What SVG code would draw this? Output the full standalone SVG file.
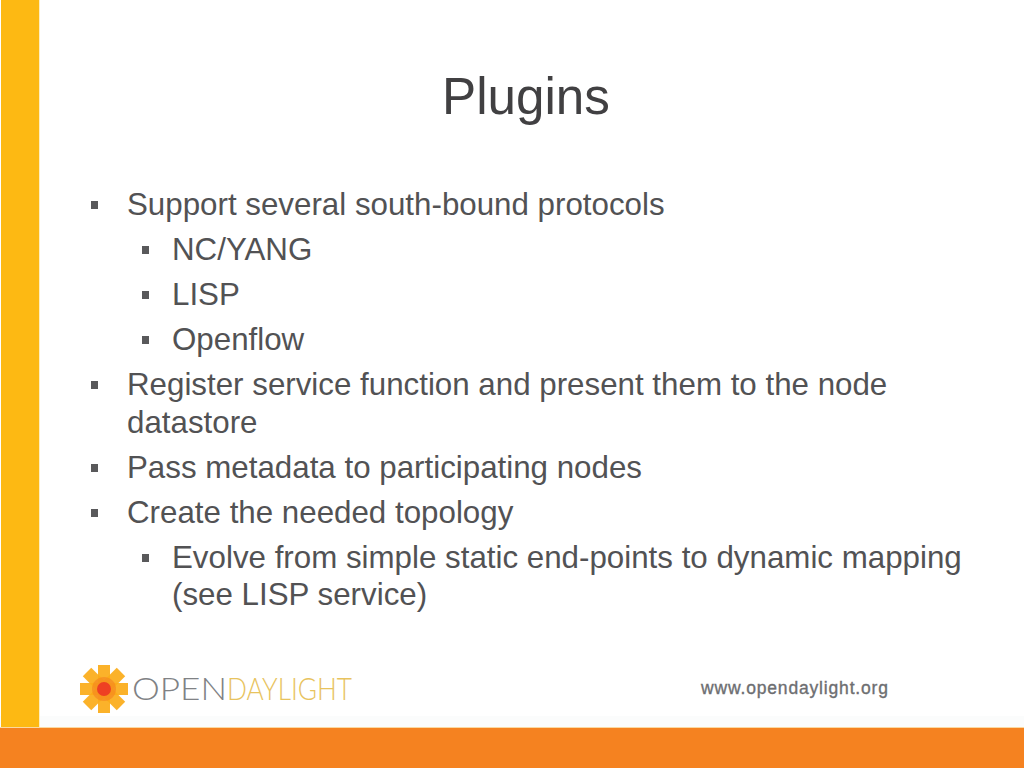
<svg xmlns="http://www.w3.org/2000/svg" width="1024" height="768" viewBox="0 0 1024 768">
<style>
text{font-family:"Liberation Sans",Arial,sans-serif;fill:#525254}
.b{font-size:31.3px}
.s{fill:#59595b}
.p{fill:#fbab18;fill-opacity:.92}
</style>
<rect width="1024" height="768" fill="#ffffff"/>
<rect x="0" y="716" width="1024" height="12" fill="#fbfcfc"/>
<rect x="1" y="0" width="38" height="728" fill="#fdb913"/>
<rect x="39" y="0" width="1" height="728" fill="#feeec0"/>
<rect x="0" y="727" width="1024" height="1" fill="#fbd9a0"/>
<rect x="0" y="728" width="1024" height="40" fill="#f58220"/>
<text x="526" y="114" font-size="51.2" text-anchor="middle" style="fill:#414042">Plugins</text>
<g id="bullets">
<rect class="s" x="91" y="201" width="7" height="8"/>
<rect class="s" x="142" y="246" width="7" height="8"/>
<rect class="s" x="142" y="291" width="7" height="8"/>
<rect class="s" x="142" y="336" width="7" height="8"/>
<rect class="s" x="91" y="381" width="7" height="8"/>
<rect class="s" x="91" y="464" width="7" height="8"/>
<rect class="s" x="91" y="509" width="7" height="8"/>
<rect class="s" x="142" y="554" width="7" height="8"/>
</g>
<text class="b" x="127" y="215">Support several south-bound protocols</text>
<text class="b" x="172" y="260">NC/YANG</text>
<text class="b" x="172" y="305">LISP</text>
<text class="b" x="172" y="350">Openflow</text>
<text class="b" x="127" y="395">Register service function and present them to the node</text>
<text class="b" x="127" y="433">datastore</text>
<text class="b" x="127" y="478">Pass metadata to participating nodes</text>
<text class="b" x="127" y="523">Create the needed topology</text>
<text class="b" x="172" y="568">Evolve from simple static end-points to dynamic mapping</text>
<text class="b" x="172" y="605">(see LISP service)</text>
<g id="logo">
<g transform="translate(104 689)">
<g class="p">
<rect x="-6" y="-24" width="12" height="48"/>
<rect x="-6" y="-24" width="12" height="48" transform="rotate(45)"/>
<rect x="-6" y="-24" width="12" height="48" transform="rotate(90)"/>
<rect x="-6" y="-24" width="12" height="48" transform="rotate(135)"/>
</g>
<circle r="12" fill="#f58220" fill-opacity=".6"/>
<circle r="7" fill="#ee4023"/>
</g>
<text x="132" y="700" font-size="31" style="font-family:'Lato','Liberation Sans',sans-serif;font-weight:300;fill:#808285" textLength="95" lengthAdjust="spacingAndGlyphs">OPEN</text>
<text x="227" y="700" font-size="31" style="font-family:'Lato','Liberation Sans',sans-serif;font-weight:300;fill:#e8c35e" textLength="125" lengthAdjust="spacingAndGlyphs">DAYLIGHT</text>
</g>
<text x="701" y="694" font-size="17.5" style="fill:#6d6e71;stroke:#6d6e71;stroke-width:.35" textLength="187">www.opendaylight.org</text>
</svg>
